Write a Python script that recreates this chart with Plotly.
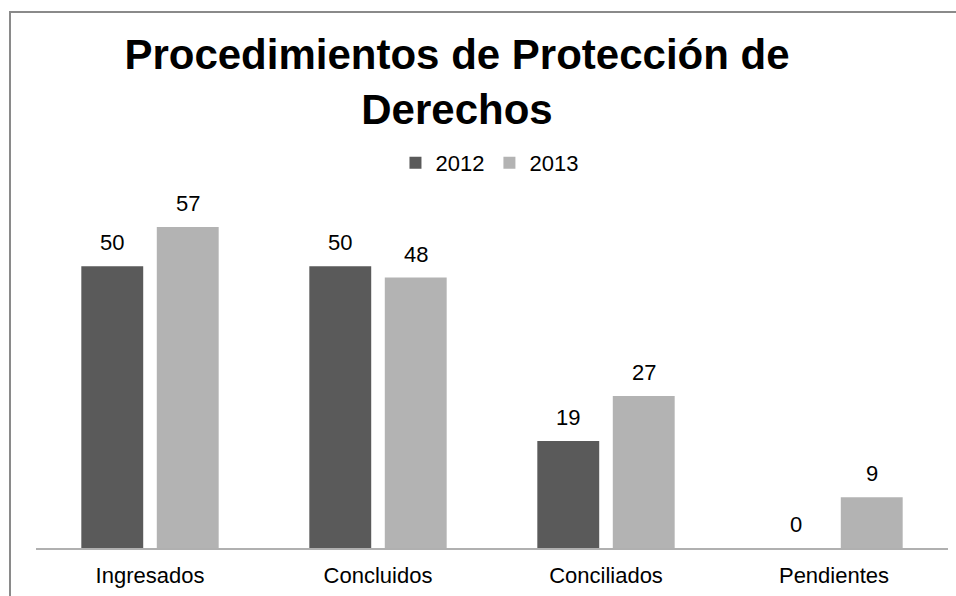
import plotly.graph_objects as go

categories = ["Ingresados", "Concluidos", "Conciliados", "Pendientes"]
values_2012 = [50, 50, 19, 0]
values_2013 = [57, 48, 27, 9]
series_names = ["2012", "2013"]
title_text = "Procedimientos de Protección de<br>Derechos"

FONT = "Liberation Sans, Arial, sans-serif"
BARGAP = 0.338
# pixel offset of each series' bar centre from the category centre
PLOT_W = 912
slot_px = PLOT_W / len(categories) * (1 - BARGAP) / 2
offsets = [-slot_px / 2, slot_px / 2]

fig = go.Figure()
fig.add_trace(go.Bar(
    x=categories, y=values_2012, name=series_names[0],
    marker=dict(color="#5a5a5a", line=dict(width=0)),
))
fig.add_trace(go.Bar(
    x=categories, y=values_2013, name=series_names[1],
    marker=dict(color="#b3b3b3", line=dict(width=0)),
))

annotations = []
for vals, off in ((values_2012, offsets[0]), (values_2013, offsets[1])):
    for cat, v in zip(categories, vals):
        annotations.append(dict(
            x=cat, y=v, xref="x", yref="y", text=str(v),
            showarrow=False, xanchor="center", yanchor="bottom",
            xshift=off, yshift=9,
            font=dict(size=22, color="#000000", family=FONT),
        ))

fig.update_layout(
    width=956, height=596,
    margin=dict(l=36, r=8, t=210, b=48),
    paper_bgcolor="white", plot_bgcolor="white",
    barmode="group", bargap=BARGAP, bargroupgap=0.18,
    font=dict(family=FONT, color="#000000"),
    title=dict(
        text="<b>" + title_text + "</b>",
        x=0.478, xref="container", xanchor="center",
        y=1 - 69 / 596, yref="container", yanchor="top",
        font=dict(size=42, color="#000000", family=FONT),
    ),
    legend=dict(
        orientation="h", x=0.512, xref="container", xanchor="center",
        y=1 - 163 / 596, yref="container", yanchor="middle",
        font=dict(size=22, color="#000000", family=FONT),
        itemwidth=30, traceorder="normal",
    ),
    xaxis=dict(
        showline=True, linecolor="#b0b0b0", linewidth=2,
        ticks="", showgrid=False, ticklabelstandoff=7,
        tickfont=dict(size=22, color="#000000", family=FONT),
    ),
    yaxis=dict(
        range=[0, 60], visible=False, showgrid=False, zeroline=False,
    ),
    annotations=annotations,
    shapes=[dict(
        type="rect", xref="paper", yref="paper",
        x0=(10 - 36) / 912, x1=1.2, y0=-0.5, y1=(548 - 12) / 338,
        line=dict(color="#8a8a8a", width=2), layer="below",
    )],
)

fig.write_html(
    "out.html",
    config={"displayModeBar": False},
    post_script="document.body.style.margin='0';",
)
